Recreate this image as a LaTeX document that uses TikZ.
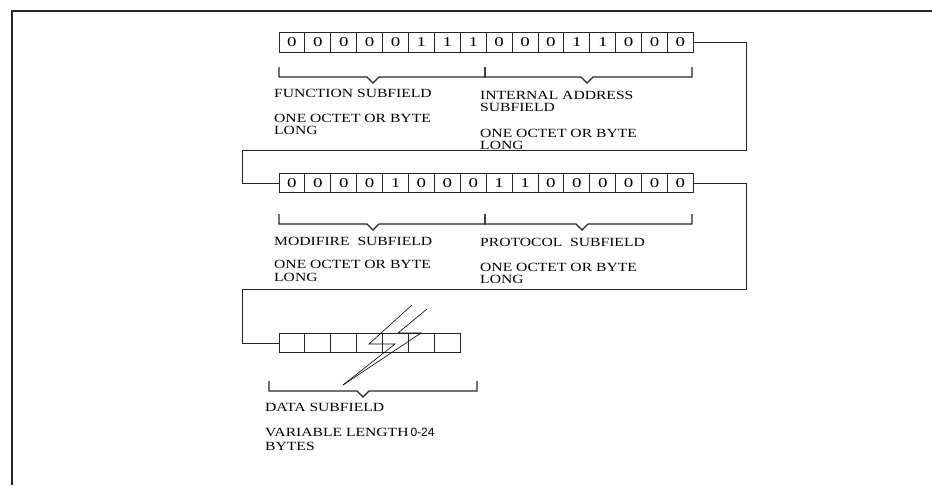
\documentclass[tikz,border=0pt]{standalone}
\usepackage{fontspec}
\setmainfont{Liberation Serif}
\newfontfamily\labfont[FakeStretch=1.25]{Liberation Serif}
\newfontfamily\digfont[FakeStretch=1.4]{Liberation Serif}
\newfontfamily\numfont{Liberation Sans}
\newcommand\bitbrace[4]{\draw[bracel] (#1,#4-10) -- (#1,#4) -- (#3-6,#4) -- (#3,#4+6) -- (#3+6,#4) -- (#2,#4) -- (#2,#4-10);}
\begin{document}
\begin{tikzpicture}[x=1pt,y=-1pt,
  cell/.style={draw=black!85, line width=1pt, minimum width=25.9pt, minimum height=19.5pt, inner sep=0pt,
    font=\digfont\fontsize{13.5}{14}\selectfont},
  lab/.style={anchor=north west, inner sep=0pt, align=left,
    font=\labfont\fontsize{12.5}{12}\selectfont},
  link/.style={draw=black!85, line width=1pt},
  bracel/.style={draw=black!85, line width=1.1pt},
  bolt/.style={draw=black, line width=0.6pt}]
\useasboundingbox (0,0) rectangle (932,485);
\draw[line width=1.5pt, black!85] (12,485) -- (12,11) -- (932,11);

% row 1
\foreach \b [count=\i] in {0,0,0,0,0,1,1,1,0,0,0,1,1,0,0,0}
  \node[cell] (a\i) at ({279+(\i-0.5)*25.9},42.5) {\b};
% row 2
\foreach \b [count=\i] in {0,0,0,0,1,0,0,0,1,1,0,0,0,0,0,0}
  \node[cell] (b\i) at ({279+(\i-0.5)*25.9},183) {\b};
% data row
\foreach \i in {1,...,7}
  \node[cell] (d\i) at ({279+(\i-0.5)*25.9},343) {};

% connectors
\coordinate (t1) at (746,150);
\coordinate (t2) at (242,150);
\draw[link] (a16.east) -| (t1) -- (t2) |- (b1.west);
\coordinate (t3) at (746,289);
\coordinate (t4) at (242,289);
\draw[link] (b16.east) -| (t3) -- (t4) |- (d1.west);

% break mark
\draw[bolt] (412,305) -- (369,344) -- (395,344) -- (343,385);
\draw[bolt] (427,309) -- (398,333) -- (421,333) -- (343,385);

% braces
\bitbrace{279}{485}{373}{77}
\bitbrace{485}{692}{587}{77}
\bitbrace{279}{485}{373}{224}
\bitbrace{485}{692}{582}{224}
\bitbrace{269}{477}{363}{391}

% labels
\node[lab] (f1) at (274,88.8) {FUNCTION SUBFIELD};
\node[lab] (f2) at (274,113.8) {ONE OCTET OR BYTE\\LONG};
\node[lab] (i1) at (480,90.8) {INTERNAL ADDRESS\\SUBFIELD};
\node[lab] (i2) at (480,128.8) {ONE OCTET OR BYTE\\LONG};
\node[lab] (m1) at (274,236.8) {MODIFIRE\ \ SUBFIELD};
\node[lab, font=\labfont\fontsize{12.5}{13}\selectfont] (m2) at (274,259.8) {ONE OCTET OR BYTE\\LONG};
\node[lab] (p1) at (480,237.8) {PROTOCOL\ \ SUBFIELD};
\node[lab, font=\labfont\fontsize{12.5}{12.5}\selectfont] (p2) at (480,262.8) {ONE OCTET OR BYTE\\LONG};
\node[lab] (s1) at (265,402.8) {DATA SUBFIELD};
\node[lab, font=\labfont\fontsize{12.5}{14}\selectfont] (s2) at (265,427.8) {VARIABLE LENGTH{\numfont\fontsize{12}{14}\selectfont\,0-24}\\BYTES};
\end{tikzpicture}
\end{document}
